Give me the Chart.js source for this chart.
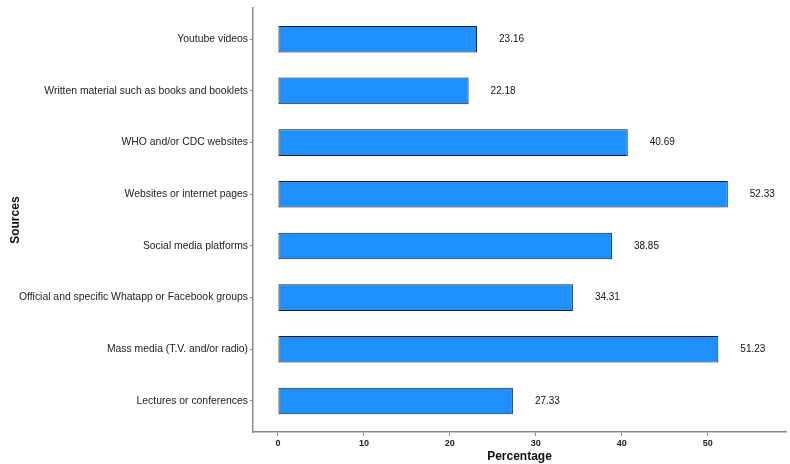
<!DOCTYPE html>
<html>
<head>
<meta charset="utf-8">
<script src="https://cdn.jsdelivr.net/npm/chart.js@4.4.1/dist/chart.umd.min.js"></script>
<style>
  html, body { margin: 0; padding: 0; background: #fff; }
  #wrap { width: 790px; height: 464px; }
</style>
</head>
<body>
<div id="wrap"><canvas id="chart" width="790" height="464"></canvas></div>
<script>
const sources = [
  "Youtube videos",
  "Written material such as books and booklets",
  "WHO and/or CDC websites",
  "Websites or internet pages",
  "Social media platforms",
  "Official and specific Whatapp or Facebook groups",
  "Mass media (T.V. and/or radio)",
  "Lectures or conferences",
];
const percentages = [23.16, 22.18, 40.69, 52.33, 38.85, 34.31, 51.23, 27.33];
const xTicks = [0, 10, 20, 30, 40, 50];

const axisColor = "#8a8a8a";
const fontFamily = "'Liberation Sans', Arial, sans-serif";

// value labels to the right of each bar
const valueLabels = {
  id: "valueLabels",
  afterDatasetsDraw(chart) {
    const ctx = chart.ctx;
    const meta = chart.getDatasetMeta(0);
    ctx.save();
    ctx.font = "10px " + fontFamily;
    ctx.fillStyle = "#111";
    ctx.textAlign = "left";
    ctx.textBaseline = "middle";
    meta.data.forEach((bar, i) => {
      ctx.fillText(percentages[i].toFixed(2), bar.x + 22, bar.y);
    });
    ctx.restore();
  },
};

new Chart(document.getElementById("chart"), {
  type: "bar",
  data: {
    datasets: [
      {
        data: percentages.map((v, i) => ({ x: v, y: i })),
        backgroundColor: "#1E90FF",
        borderColor: "#1a1a1a",
        borderWidth: 1,
        borderSkipped: false,
        categoryPercentage: 1,
        barPercentage: 0.515,
      },
    ],
  },
  plugins: [valueLabels],
  options: {
    indexAxis: "y",
    responsive: false,
    animation: false,
    layout: { padding: { top: 8, right: 4, left: 0, bottom: 0 } },
    plugins: {
      legend: { display: false },
      tooltip: { enabled: false },
    },
    scales: {
      x: {
        type: "linear",
        min: -2.9,
        max: 59.1,
        afterBuildTicks: (axis) => {
          axis.ticks = xTicks.map((v) => ({ value: v }));
        },
        afterFit: (axis) => {
          axis.height = 32;
        },
        grid: {
          drawOnChartArea: false,
          drawTicks: true,
          tickLength: 4,
          color: axisColor,
        },
        border: { display: true, color: axisColor, width: 1.5 },
        ticks: {
          color: "#222",
          font: { family: fontFamily, size: 9, weight: "bold" },
          padding: 2,
          maxRotation: 0,
        },
        title: {
          display: true,
          text: "Percentage",
          color: "#111",
          font: { family: fontFamily, size: 12, weight: "bold" },
          padding: { top: -2, bottom: 0 },
        },
      },
      y: {
        type: "linear",
        reverse: true,
        offset: false,
        min: -0.6,
        max: 7.6,
        afterBuildTicks: (axis) => {
          axis.ticks = sources.map((_, i) => ({ value: i }));
        },
        afterFit: (axis) => {
          axis.width = 253;
        },
        grid: {
          offset: false,
          drawOnChartArea: false,
          drawTicks: true,
          tickLength: 3,
          color: axisColor,
        },
        border: { display: true, color: axisColor, width: 1.5 },
        ticks: {
          color: "#222",
          font: { family: fontFamily, size: 10.4 },
          padding: 2,
          callback: (value) => sources[value] || "",
        },
        title: {
          display: true,
          text: "Sources",
          color: "#111",
          font: { family: fontFamily, size: 12, weight: "bold" },
          padding: { top: 8, bottom: 0 },
        },
      },
    },
  },
});
</script>
</body>
</html>
